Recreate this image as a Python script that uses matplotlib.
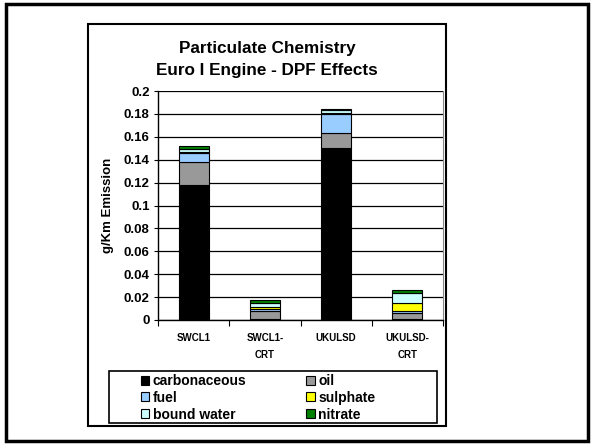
import matplotlib.pyplot as plt
import numpy as np
from matplotlib.patches import Rectangle

plt.rcParams['font.family'] = ['Liberation Sans', 'DejaVu Sans']
plt.rcParams['font.weight'] = 'bold'

# data (g/Km)
categories = ['SWCL1', 'SWCL1-\nCRT', 'UKULSD', 'UKULSD-\nCRT']
carbonaceous = [0.118, 0.0005, 0.150, 0.0005]
oil = [0.020, 0.0073, 0.013, 0.006]
fuel = [0.008, 0.0018, 0.017, 0.0015]
sulphate = [0.001, 0.0021, 0.001, 0.0065]
bound_water = [0.002, 0.0035, 0.0025, 0.009]
nitrate = [0.003, 0.0026, 0.001, 0.0026]

components = ['carbonaceous', 'oil', 'fuel', 'sulphate', 'bound water', 'nitrate']
series = [carbonaceous, oil, fuel, sulphate, bound_water, nitrate]
colors = ['#000000', '#999999', '#99CCFF', '#FFFF00', '#CCFFFF', '#008000']

W, H = 593, 445
fig = plt.figure(figsize=(W / 100, H / 100), dpi=100)


def px(x0, y0, x1, y1):
    # pixel box (top-left origin) -> figure fraction rect
    return [x0 / W, 1 - y1 / H, (x1 - x0) / W, (y1 - y0) / H]


# outer slide border and chart frame
fig.patches.append(Rectangle((6 / W, 1 - 441 / H), 582 / W, 437 / H, transform=fig.transFigure,
                             fill=False, edgecolor='black', linewidth=2.5))
fig.patches.append(Rectangle((88 / W, 1 - 426 / H), 358 / W, 402 / H, transform=fig.transFigure,
                             fill=False, edgecolor='black', linewidth=1.5))

ax = fig.add_axes(px(158, 91, 443, 320))
x = np.arange(len(categories))
bottom = np.zeros(len(categories))
handles = []
for name, vals, col in zip(components, series, colors):
    b = ax.bar(x, vals, width=0.42, bottom=bottom, color=col, edgecolor='black',
               linewidth=0.8, label=name, zorder=3)
    handles.append(b)
    bottom += np.array(vals)

ax.set_xlim(-0.5, 3.5)
ax.set_ylim(0, 0.2)
ax.set_yticks(np.arange(0, 0.201, 0.02))
ax.set_yticklabels(['0', '0.02', '0.04', '0.06', '0.08', '0.1', '0.12', '0.14',
                    '0.16', '0.18', '0.2'], fontsize=9.5, fontweight='bold')
ax.yaxis.grid(True, color='black', linewidth=0.9, zorder=0)
ax.tick_params(axis='y', length=3, width=0.8, pad=3)

# category labels between boundary ticks
ax.set_xticks(np.arange(-0.5, 4, 1))
ax.set_xticklabels([])
ax.tick_params(axis='x', length=4, width=0.8)
for xi, lab in zip(x, categories):
    ax.text(xi, -0.0112, lab, ha='center', va='top', fontsize=7, fontweight='bold',
            linespacing=1.85)

ax.spines['right'].set_color('#888888')
ax.spines['top'].set_visible(False)
ax.spines['left'].set_linewidth(1.0)
ax.spines['bottom'].set_linewidth(1.0)

ax.set_ylabel('g/Km Emission', fontsize=9.5, fontweight='bold', labelpad=7)

fig.text(267 / W, 1 - 48 / H, 'Particulate Chemistry', ha='center', va='center',
         fontsize=12.3, fontweight='bold')
fig.text(267 / W, 1 - 70 / H, 'Euro I Engine - DPF Effects', ha='center', va='center',
         fontsize=12.3, fontweight='bold')

# legend, row-major like the reference
fig.patches.append(Rectangle((109 / W, 1 - 423 / H), 328 / W, 52 / H, transform=fig.transFigure,
                             fill=False, edgecolor='black', linewidth=1.2))
order = [0, 2, 4, 1, 3, 5]
fig.legend([handles[i] for i in order], [components[i] for i in order], ncol=2,
           loc='upper left', bbox_to_anchor=(141 / W, 1 - 374 / H), frameon=False,
           handlelength=0.6, handleheight=0.6, handletextpad=0.25,
           columnspacing=4.3, labelspacing=0.2, borderpad=0, borderaxespad=0,
           prop={'weight': 'bold', 'size': 10})

fig.savefig('out.png', dpi=100)
